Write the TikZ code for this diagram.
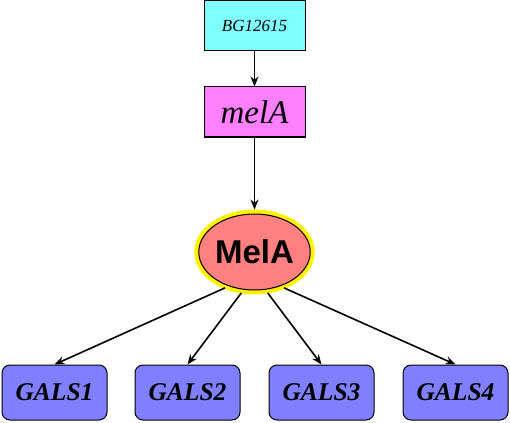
\documentclass[tikz,border=0pt]{standalone}
\usepackage{fontspec}
\setmainfont{Liberation Serif}
\newfontfamily\protfont{Liberation Sans}
\usetikzlibrary{arrows.meta,shapes.geometric}
\definecolor{bgcyan}{HTML}{80FFFF}
\definecolor{genepink}{HTML}{FF80FF}
\definecolor{protsalmon}{HTML}{FF8080}
\definecolor{galsblue}{HTML}{8080FF}
\tikzset{
	genebox/.style={draw=black, line width=1pt, minimum width=101pt, minimum height=50pt, inner sep=0pt},
	galsbox/.style={draw=black, line width=1pt, fill=galsblue, rounded corners=8pt, minimum width=105pt, minimum height=55pt, inner sep=0pt, font=\fontsize{25.5}{25.5}\selectfont\bfseries\itshape},
	link/.style={line width=1.6pt, -{Stealth[length=10pt,width=8pt]}}
}

\begin{document}
\begin{tikzpicture}[x=1pt,y=-1pt]
		%%%%% START %%%%%
		\useasboundingbox (0,0) rectangle (510,422);
		
		\node[genebox, fill=bgcyan, font=\fontsize{17}{17}\selectfont\itshape] (bg) at (254.5,25.5) {BG12615};
		\node[genebox, fill=genepink, font=\fontsize{33}{33}\selectfont\itshape] (melagene) at (254.5,112) {melA};
		
		\node[ellipse, draw=black, line width=1pt, fill=protsalmon, preaction={draw=yellow, line width=9pt},
			minimum width=99pt, minimum height=76pt, inner sep=0pt,
			font=\protfont\bfseries\fontsize{33}{33}\selectfont] (melaprot) at (254.5,252) {MelA};
		
		\node[galsbox] (gals1) at (54.5,392.5) {GALS1};
		\node[galsbox] (gals2) at (187.5,392.5) {GALS2};
		\node[galsbox] (gals3) at (321.5,392.5) {GALS3};
		\node[galsbox] (gals4) at (455.5,392.5) {GALS4};
		
		\draw[link] (bg) -- (melagene);
		\draw[link, shorten >=4pt] (melagene) -- (melaprot);
		
		\foreach \i/\a in {1/233,2/254,3/286,4/307}
			\draw[link, shorten <=4pt] (melaprot.\a) -- (gals\i.north);
		
		%%%%% END %%%%%
	\end{tikzpicture}
\end{document}
